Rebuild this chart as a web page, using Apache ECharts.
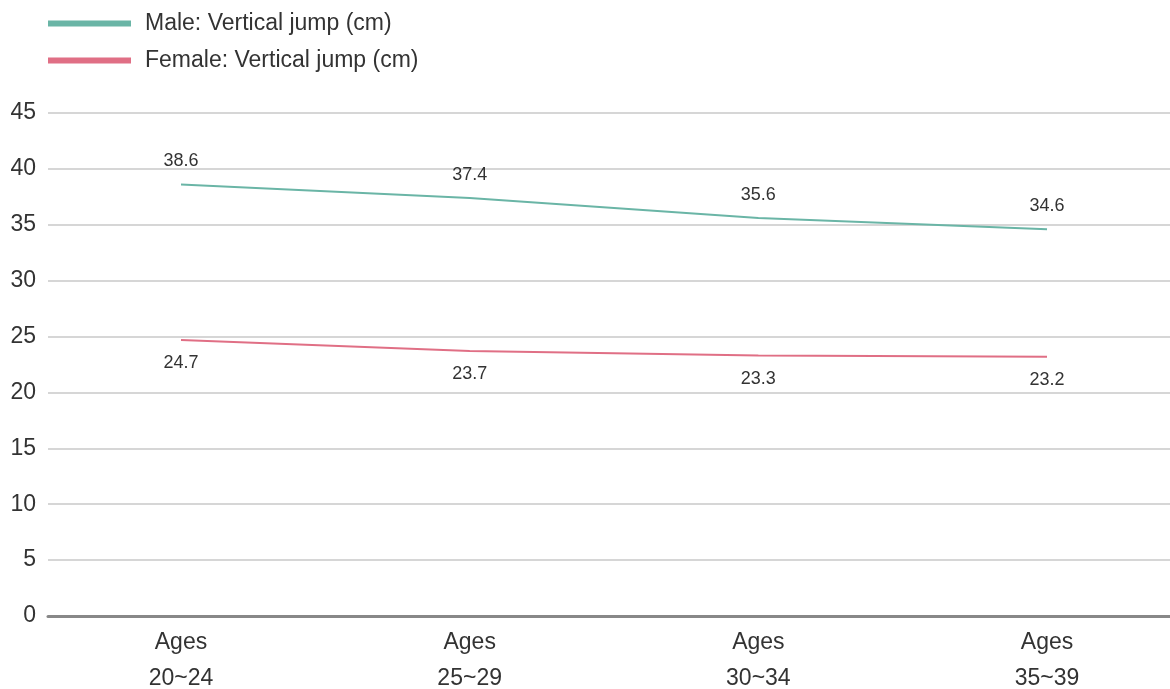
<!DOCTYPE html>
<html><head><meta charset="utf-8">
<script src="https://cdn.jsdelivr.net/npm/echarts@6/dist/echarts.min.js"></script>
<style>html,body{margin:0;padding:0;background:#fff}#c{width:1170px;height:689px}</style>
</head><body><div id="c"></div>
<script>
var categories = ['Ages\n20~24', 'Ages\n25~29', 'Ages\n30~34', 'Ages\n35~39'];
var maleValues = [38.6, 37.4, 35.6, 34.6];
var femaleValues = [24.7, 23.7, 23.3, 23.2];
var yTicks = [0, 5, 10, 15, 20, 25, 30, 35, 40, 45];
var seriesNames = ['Male: Vertical jump (cm)', 'Female: Vertical jump (cm)'];

var font = '"Liberation Sans", Arial, Helvetica, sans-serif';
function pts(arr){ return arr.map(function(v,i){ return [i, v]; }); }
var chart = echarts.init(document.getElementById('c'), null, {renderer:'canvas'});
chart.setOption({
  animation: false,
  textStyle: {fontFamily: font},
  legend: {
    orient: 'vertical', left: 43, top: 7, itemWidth: 83, itemHeight: 6, itemGap: 14,
    icon: 'rect',
    textStyle: {fontSize: 23, color: '#333', fontFamily: font, padding: [0,0,0,9]},
    data: seriesNames
  },
  grid: {left: 48, right: 0, top: 113, bottom: 73, containLabel: false, outerBoundsMode: 'none'},
  xAxis: {
    type: 'value', min: -0.4607, max: 3.426,
    axisLine: {show: true, lineStyle: {color: '#888', width: 3}},
    axisTick: {show: false},
    splitLine: {show: false},
    axisLabel: {
      customValues: [0,1,2,3],
      formatter: function(v){ return categories[Math.round(v)]; },
      fontSize: 23, lineHeight: 36, color: '#333', margin: 9, fontFamily: font
    }
  },
  yAxis: {
    type: 'value', min: 0, max: 45, interval: 5,
    axisLine: {show: false}, axisTick: {show: false},
    splitLine: {lineStyle: {color: '#d6d6d6', width: 2}},
    axisLabel: {fontSize: 23, color: '#333', margin: 12, fontFamily: font, padding: [6,0,0,0],
      formatter: function(v){ return yTicks.indexOf(v) >= 0 ? String(v) : ''; }}
  },
  series: [
    {name: seriesNames[0], type: 'line', data: pts(maleValues), showSymbol: true, symbol: 'circle', symbolSize: 0.1,
     itemStyle: {color: '#6ab5a6'}, lineStyle: {color: '#6ab5a6', width: 2},
     label: {show: true, position: 'top', distance: 14, fontSize: 18, color: '#333', fontFamily: font}},
    {name: seriesNames[1], type: 'line', data: pts(femaleValues), showSymbol: true, symbol: 'circle', symbolSize: 0.1,
     itemStyle: {color: '#e06f85'}, lineStyle: {color: '#e06f85', width: 2},
     label: {show: true, position: 'bottom', distance: 14, fontSize: 18, color: '#333', fontFamily: font}}
  ]
});
</script></body></html>
